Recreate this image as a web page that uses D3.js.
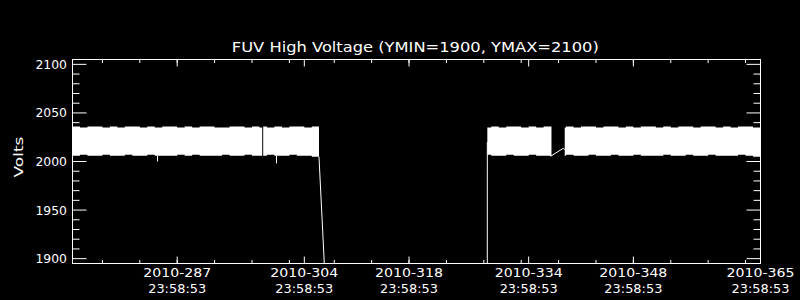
<!DOCTYPE html>
<html><head><meta charset="utf-8">
<script src="https://cdn.jsdelivr.net/npm/d3@7"></script>
<style>html,body{margin:0;padding:0;background:#000;}svg{display:block;}</style>
</head><body>
<svg id="c" width="800" height="300"></svg>
<script>
// ---- data (day-of-year 2010, volts) ----
const title = "FUV High Voltage (YMIN=1900, YMAX=2100)";
const yLabel = "Volts";
const yMajorTicks = [1900, 1950, 2000, 2050, 2100];
const yMinorTicks = [1910,1920,1930,1940,1960,1970,1980,1990,2010,2020,2030,2040,2060,2070,2080,2090];
const xMajorTicks = [287.9992, 304.9992, 318.9992, 334.9992, 348.9992, 365.9992];
const xMajorLabels1 = ["2010-287","2010-304","2010-318","2010-334","2010-348","2010-365"];
const xMajorLabels2 = ["23:58:53","23:58:53","23:58:53","23:58:53","23:58:53","23:58:53"];
const xMinorTicks = [278,283,288,293,298,303,309,314,319,324,329,334,339,344,349,354,359,364];

// noisy voltage band: high / low envelope of the readings
const bandA1Days = [274,275,276,277,278,279,280,281,282,283,284,285,286,287,288,289,290,291,292,293,294,295,296,297,298,299,299.37];
const bandA1Hi   = [2036,2035,2036,2036,2035,2036,2035,2036,2036,2035,2036,2035,2036,2036,2035,2036,2035,2036,2036,2035,2035,2036,2036,2035,2036,2035,2035];
const bandA1Lo   = [2006,2007,2006,2006,2007,2006,2006,2007,2006,2006,2007,2006,2006,2006,2007,2006,2007,2006,2006,2006,2007,2006,2006,2007,2006,2006,2006];
const bandA2Days = [299.5,300,301,302,303,304,305,306,306.96];
const bandA2Hi   = [2036,2035,2036,2035,2036,2036,2035,2036,2036];
const bandA2Lo   = [2006,2007,2006,2006,2007,2006,2006,2005,2005];
const bandBDays  = [329.47,330,331,332,333,334,335,336,337,338.05];
const bandBHi    = [2035,2036,2035,2036,2036,2035,2036,2035,2036,2036];
const bandBLo    = [2007,2006,2006,2007,2006,2006,2007,2006,2006,2006];
const bandCDays  = [339.82,340,341,342,343,344,345,346,347,348,349,350,351,352,353,354,355,356,357,358,359,360,361,362,363,364,365,366];
const bandCHi    = [2035,2036,2035,2036,2036,2035,2036,2036,2035,2036,2035,2036,2036,2035,2036,2035,2036,2036,2035,2036,2036,2035,2036,2035,2036,2036,2035,2035];
const bandCLo    = [2006,2007,2006,2006,2007,2006,2006,2007,2006,2006,2007,2006,2006,2006,2007,2006,2006,2007,2006,2006,2007,2006,2006,2006,2007,2006,2005,2005];

// connecting readings outside the band
const dropDays  = [306.96, 319.9, 329.45, 329.47];
const dropVolts = [2005, 0, 0, 2020];
const gapDays   = [337.85, 337.95, 339.63, 339.82];
const gapVolts  = [2007, 2005.5, 2013.6, 2012];
const spikeDays = [285.34, 301.25];
const spikeLo   = [2000, 1998];
const spikeHi   = [2006, 2006];

// ---- drawing ----
const svg = d3.select("#c");
svg.append("rect").attr("width",800).attr("height",300).attr("fill","#000");

const x = d3.scaleLinear().domain([274, 366]).range([72.5, 760.5]);
const y = d3.scaleLinear().domain([1895, 2105]).range([263.5, 59.5]);
const font = "'DejaVu Sans', sans-serif";

svg.append("clipPath").attr("id","clip").append("rect")
  .attr("x",72.5).attr("y",59.5).attr("width",688).attr("height",204);
const g = svg.append("g").attr("clip-path","url(#clip)");

const area = d3.area().x(d=>x(d.day)).y0(d=>y(d.lo)).y1(d=>y(d.hi)).curve(d3.curveStepAfter);
function seg(days, hi, lo){ return days.map((d,i)=>({day:d, hi:hi[i], lo:lo[i]})); }
[seg(bandA1Days,bandA1Hi,bandA1Lo), seg(bandA2Days,bandA2Hi,bandA2Lo),
 seg(bandBDays,bandBHi,bandBLo), seg(bandCDays,bandCHi,bandCLo)].forEach(s=>{
  g.append("path").attr("d", area(s)).attr("fill","#fff");
});
const line = d3.line().x(d=>x(d.day)).y(d=>y(d.v));
g.append("path").attr("d", line(dropDays.map((d,i)=>({day:d,v:dropVolts[i]}))))
  .attr("fill","none").attr("stroke","#fff").attr("stroke-width",1);
g.append("path").attr("d", line(gapDays.map((d,i)=>({day:d,v:gapVolts[i]}))))
  .attr("fill","none").attr("stroke","#fff").attr("stroke-width",1);
spikeDays.forEach((d,i)=>{
  g.append("line").attr("x1",Math.round(x(d))+0.5).attr("x2",Math.round(x(d))+0.5)
   .attr("y1",y(spikeHi[i])).attr("y2",y(spikeLo[i])).attr("stroke","#fff");
});

// axes (ticks pointing inward)
function ax(a, tf){ return a; }
const axes = [
  {gen: d3.axisRight(y), tr:[72.5,0], major: 14, minor: 7, mv: yMajorTicks, nv: yMinorTicks},
  {gen: d3.axisLeft(y), tr:[760.5,0], major: 14, minor: 7, mv: yMajorTicks, nv: yMinorTicks},
  {gen: d3.axisTop(x), tr:[0,263.5], major: 7, minor: 3.5, mv: xMajorTicks, nv: xMinorTicks},
  {gen: d3.axisBottom(x), tr:[0,59.5], major: 7, minor: 3.5, mv: xMajorTicks, nv: xMinorTicks}
];
axes.forEach(a=>{
  [[a.mv,a.major],[a.nv,a.minor]].forEach(([vals,len])=>{
    const gen = a.gen.scale().copy ? a.gen : a.gen;
    const axg = svg.append("g").attr("transform",`translate(${a.tr[0]},${a.tr[1]})`)
      .call(gen.tickValues(vals).tickSize(len).tickFormat("").offset(0));
    axg.select(".domain").remove();
    axg.selectAll("line").attr("stroke","#fff").attr("stroke-width",1);
  });
});

// frame
svg.append("rect").attr("x",72.5).attr("y",59.5).attr("width",688).attr("height",204)
  .attr("fill","none").attr("stroke","#fff").attr("stroke-width",1);

// y labels
yMajorTicks.forEach(v=>{
  svg.append("text").attr("x",67).attr("y",y(v)+4.5).attr("text-anchor","end")
    .attr("font-family",font).attr("font-size","12.5px").attr("fill","#fff")
    .attr("textLength",31.5).attr("lengthAdjust","spacingAndGlyphs").text(v);
});
// x labels
xMajorTicks.forEach((v,i)=>{
  svg.append("text").attr("x",x(v)).attr("y",277).attr("text-anchor","middle")
    .attr("font-family",font).attr("font-size","11.5px").attr("fill","#fff")
    .attr("textLength",68).attr("lengthAdjust","spacingAndGlyphs").text(xMajorLabels1[i]);
  svg.append("text").attr("x",x(v)).attr("y",292.5).attr("text-anchor","middle")
    .attr("font-family",font).attr("font-size","11.5px").attr("fill","#fff")
    .attr("textLength",58).attr("lengthAdjust","spacingAndGlyphs").text(xMajorLabels2[i]);
});
// title
svg.append("text").attr("x",415.3).attr("y",52).attr("text-anchor","middle")
  .attr("font-family",font).attr("font-size","14px").attr("fill","#fff")
  .attr("textLength",367).attr("lengthAdjust","spacingAndGlyphs").text(title);
// y axis title
svg.append("text").attr("transform","translate(23,157) rotate(-90)").attr("text-anchor","middle")
  .attr("font-family",font).attr("font-size","12px").attr("fill","#fff")
  .attr("textLength",41).attr("lengthAdjust","spacingAndGlyphs").text(yLabel);
</script>
</body></html>
